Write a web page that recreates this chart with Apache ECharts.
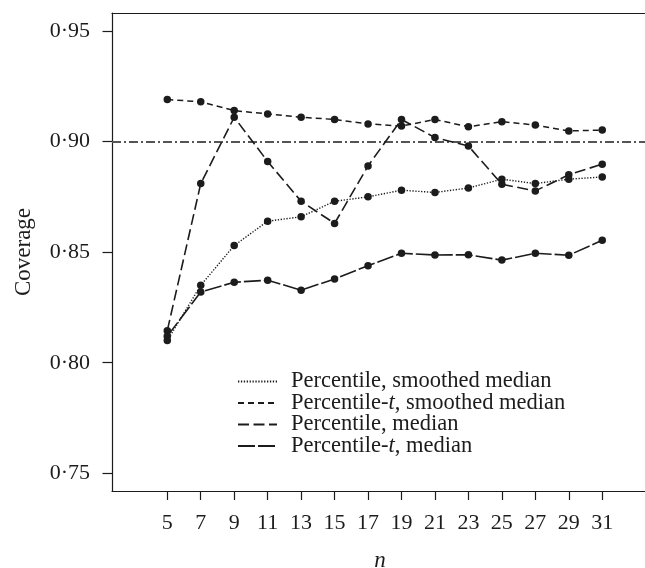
<!DOCTYPE html>
<html>
<head>
<meta charset="utf-8">
<script src="https://cdn.jsdelivr.net/npm/echarts@6/dist/echarts.min.js"></script>
<style>
html,body{margin:0;padding:0;background:#fff;overflow:hidden;}
#chart{width:645px;height:568px;}
</style>
</head>
<body>
<div id="chart"></div>
<script>
const nValues = [5, 7, 9, 11, 13, 15, 17, 19, 21, 23, 25, 27, 29, 31];
const pctSmoothed = [0.810, 0.835, 0.853, 0.864, 0.866, 0.873, 0.875, 0.878, 0.877, 0.879, 0.883, 0.881, 0.883, 0.884];
const pctTSmoothed = [0.919, 0.918, 0.914, 0.9125, 0.911, 0.910, 0.908, 0.907, 0.910, 0.9067, 0.909, 0.9075, 0.9048, 0.9052];
const pctMedian = [0.8145, 0.881, 0.911, 0.891, 0.873, 0.863, 0.889, 0.910, 0.9018, 0.898, 0.8807, 0.8777, 0.885, 0.8898];
const pctTMedian = [0.812, 0.832, 0.8364, 0.8373, 0.8328, 0.8379, 0.8439, 0.8495, 0.8487, 0.8488, 0.8464, 0.8495, 0.8486, 0.8554];
const yTicks = [0.75, 0.80, 0.85, 0.90, 0.95];
const xTicks = [5, 7, 9, 11, 13, 15, 17, 19, 21, 23, 25, 27, 29, 31];
const nominal = 0.90;
const seriesNames = ['Percentile, smoothed median', 'Percentile-t, smoothed median', 'Percentile, median', 'Percentile-t, median'];

const FONT = '"Liberation Serif", "DejaVu Serif", serif';
const INK = '#1c1c1c';
const X_MIN = 1.695, X_MAX = 33.735;

function pairs(vals) { return nValues.map((n, i) => [n, vals[i]]); }

function mkSeries(name, vals, dash, width) {
  return {
    name: name,
    type: 'line',
    data: pairs(vals),
    symbol: 'circle',
    symbolSize: 7.5,
    showSymbol: true,
    itemStyle: { color: INK },
    lineStyle: { color: INK, width: width, type: dash, cap: 'butt' },
    emphasis: { disabled: true },
    animation: false,
    z: 3
  };
}

const series = [
  mkSeries(seriesNames[0], pctSmoothed, [1.3, 1.6], 1.4),
  mkSeries(seriesNames[1], pctTSmoothed, [6, 4], 1.5),
  mkSeries(seriesNames[2], pctMedian, [11, 4.5], 1.6),
  mkSeries(seriesNames[3], pctTMedian, [17, 3], 1.6)
];
series[0].markLine = {
  silent: true,
  symbol: 'none',
  label: { show: false },
  lineStyle: { color: '#555555', width: 1.8, type: [9, 3, 2, 3] },
  data: [{ yAxis: nominal }],
  animation: false,
  z: 1
};

const chart = echarts.init(document.getElementById('chart'), null, { renderer: 'canvas' });

const legendFormatter = function (name) {
  if (name.indexOf('Percentile-t') === 0) {
    return '{n|Percentile-}{i|t}{n|' + name.slice('Percentile-t'.length) + '}';
  }
  return '{n|' + name + '}';
};

chart.setOption({
  backgroundColor: '#ffffff',
  animation: false,
  grid: {
    left: 112, top: 13, width: 536, height: 478, show: false,
    containLabel: false, outerBoundsMode: 'none'
  },
  legend: {
    show: true,
    orient: 'vertical',
    left: 237,
    top: 370,
    padding: 0,
    itemWidth: 39,
    itemHeight: 14,
    itemGap: -1.5,
    selectedMode: false,
    itemStyle: { opacity: 0 },
    data: seriesNames,
    formatter: legendFormatter,
    textStyle: {
      fontFamily: FONT,
      fontSize: 22.5,
      color: INK,
      padding: [0, 0, 0, 9],
      rich: {
        n: { fontFamily: FONT, fontSize: 22.5, color: INK, lineHeight: 20.6 },
        i: { fontFamily: FONT, fontSize: 22.5, color: INK, fontStyle: 'italic', lineHeight: 20.6 }
      }
    }
  },
  xAxis: [{
    type: 'value',
    min: X_MIN,
    max: X_MAX,
    name: 'n',
    nameLocation: 'middle',
    nameGap: 58,
    nameTextStyle: { fontFamily: FONT, fontSize: 23, fontStyle: 'italic', color: INK },
    axisLine: { show: true, onZero: false, lineStyle: { color: INK, width: 1.2 } },
    axisTick: { show: true, inside: false, length: 9, customValues: xTicks, lineStyle: { color: INK, width: 1.2 } },
    axisLabel: {
      show: true, margin: 21, customValues: xTicks,
      fontFamily: FONT, fontSize: 22, color: INK,
      formatter: function (v) { return String(v); }
    },
    splitLine: { show: false }
  }, {
    type: 'value',
    position: 'top',
    min: X_MIN,
    max: X_MAX,
    axisLine: { show: true, onZero: false, lineStyle: { color: INK, width: 1.2 } },
    axisTick: { show: false },
    axisLabel: { show: false },
    splitLine: { show: false }
  }],
  yAxis: {
    type: 'value',
    min: 0.7420,
    max: 0.95814,
    name: 'Coverage',
    nameLocation: 'middle',
    nameRotate: 90,
    nameGap: 77,
    nameTextStyle: { fontFamily: FONT, fontSize: 23, color: INK },
    axisLine: { show: true, onZero: false, lineStyle: { color: INK, width: 1.2 } },
    axisTick: { show: true, inside: false, length: 9.5, customValues: yTicks, lineStyle: { color: INK, width: 1.2 } },
    axisLabel: {
      show: true, margin: 22, customValues: yTicks,
      fontFamily: FONT, fontSize: 22, color: INK,
      formatter: function (v) { return v.toFixed(2).replace('.', '\u00B7'); }
    },
    splitLine: { show: false }
  },
  series: series
});
</script>
</body>
</html>
